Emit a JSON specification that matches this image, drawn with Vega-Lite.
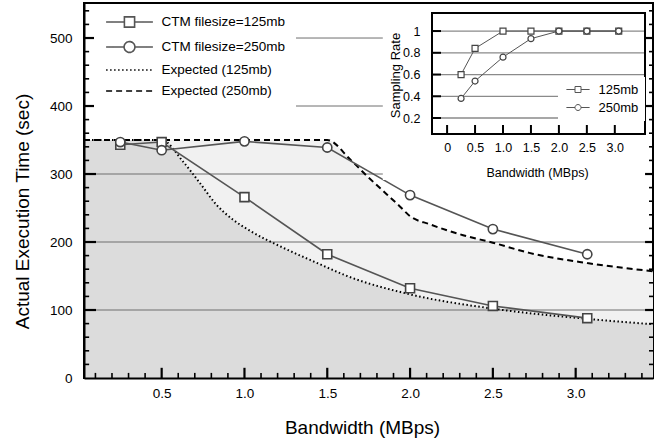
{
  "$schema": "https://vega.github.io/schema/vega-lite/v6.json",
  "autosize": "none",
  "width": 569,
  "height": 375,
  "padding": {"left": 84, "top": 3, "right": 5, "bottom": 66},
  "background": "white",
  "config": {
    "font": "Liberation Sans",
    "view": {"stroke": "black", "strokeWidth": 2},
    "axis": {"grid": false, "labelFont": "Liberation Sans", "titleFont": "Liberation Sans", "labelColor": "black", "titleColor": "black", "titleFontWeight": "normal", "tickColor": "black", "domainColor": "black"},
    "legend": {"labelFont": "Liberation Sans", "labelColor": "black"}
  },
  "datasets": {
    "main": [
      {"series": "CTM filesize=125mb", "bw": 0.25, "time": 343},
      {"series": "CTM filesize=125mb", "bw": 0.5, "time": 347},
      {"series": "CTM filesize=125mb", "bw": 1.0, "time": 266},
      {"series": "CTM filesize=125mb", "bw": 1.5, "time": 182},
      {"series": "CTM filesize=125mb", "bw": 2.0, "time": 132},
      {"series": "CTM filesize=125mb", "bw": 2.5, "time": 106},
      {"series": "CTM filesize=125mb", "bw": 3.07, "time": 88},
      {"series": "CTM filesize=250mb", "bw": 0.25, "time": 347},
      {"series": "CTM filesize=250mb", "bw": 0.5, "time": 335},
      {"series": "CTM filesize=250mb", "bw": 1.0, "time": 348},
      {"series": "CTM filesize=250mb", "bw": 1.5, "time": 339},
      {"series": "CTM filesize=250mb", "bw": 2.0, "time": 269},
      {"series": "CTM filesize=250mb", "bw": 2.5, "time": 219},
      {"series": "CTM filesize=250mb", "bw": 3.07, "time": 182},
      {"series": "Expected (125mb)", "bw": 0.031, "time": 350},
      {"series": "Expected (125mb)", "bw": 0.5, "time": 350},
      {"series": "Expected (125mb)", "bw": 0.63, "time": 318},
      {"series": "Expected (125mb)", "bw": 0.73, "time": 287},
      {"series": "Expected (125mb)", "bw": 0.83, "time": 255},
      {"series": "Expected (125mb)", "bw": 0.93, "time": 233},
      {"series": "Expected (125mb)", "bw": 1.03, "time": 217},
      {"series": "Expected (125mb)", "bw": 1.23, "time": 192},
      {"series": "Expected (125mb)", "bw": 1.44, "time": 169},
      {"series": "Expected (125mb)", "bw": 1.62, "time": 150},
      {"series": "Expected (125mb)", "bw": 2.0, "time": 123},
      {"series": "Expected (125mb)", "bw": 2.5, "time": 102},
      {"series": "Expected (125mb)", "bw": 3.07, "time": 87},
      {"series": "Expected (125mb)", "bw": 3.467, "time": 79},
      {"series": "Expected (250mb)", "bw": 0.031, "time": 350},
      {"series": "Expected (250mb)", "bw": 1.5, "time": 350},
      {"series": "Expected (250mb)", "bw": 1.64, "time": 321},
      {"series": "Expected (250mb)", "bw": 1.74, "time": 297},
      {"series": "Expected (250mb)", "bw": 1.86, "time": 270},
      {"series": "Expected (250mb)", "bw": 1.94, "time": 252},
      {"series": "Expected (250mb)", "bw": 2.0, "time": 238},
      {"series": "Expected (250mb)", "bw": 2.12, "time": 226},
      {"series": "Expected (250mb)", "bw": 2.32, "time": 210},
      {"series": "Expected (250mb)", "bw": 2.5, "time": 199},
      {"series": "Expected (250mb)", "bw": 2.72, "time": 184},
      {"series": "Expected (250mb)", "bw": 3.07, "time": 169},
      {"series": "Expected (250mb)", "bw": 3.467, "time": 157}
    ],
    "inset": [
      {"series": "125mb", "bw": 0.25, "rate": 0.6},
      {"series": "125mb", "bw": 0.5, "rate": 0.84},
      {"series": "125mb", "bw": 1.0, "rate": 1.0},
      {"series": "125mb", "bw": 1.5, "rate": 1.0},
      {"series": "125mb", "bw": 2.0, "rate": 1.0},
      {"series": "125mb", "bw": 2.5, "rate": 1.0},
      {"series": "125mb", "bw": 3.07, "rate": 1.0},
      {"series": "250mb", "bw": 0.25, "rate": 0.38},
      {"series": "250mb", "bw": 0.5, "rate": 0.54},
      {"series": "250mb", "bw": 1.0, "rate": 0.76},
      {"series": "250mb", "bw": 1.5, "rate": 0.93},
      {"series": "250mb", "bw": 2.0, "rate": 1.0},
      {"series": "250mb", "bw": 2.5, "rate": 1.0},
      {"series": "250mb", "bw": 3.07, "rate": 1.0}
    ],
    "grid": [{"g": 100}, {"g": 200}, {"g": 300}, {"g": 400}, {"g": 500}],
    "xMajor": [{"v": 0.5}, {"v": 1.0}, {"v": 1.5}, {"v": 2.0}, {"v": 2.5}, {"v": 3.0}],
    "xMinor": [{"v": 0.1}, {"v": 0.2}, {"v": 0.3}, {"v": 0.4}, {"v": 0.6}, {"v": 0.7}, {"v": 0.8}, {"v": 0.9}, {"v": 1.1}, {"v": 1.2}, {"v": 1.3}, {"v": 1.4}, {"v": 1.6}, {"v": 1.7}, {"v": 1.8}, {"v": 1.9}, {"v": 2.1}, {"v": 2.2}, {"v": 2.3}, {"v": 2.4}, {"v": 2.6}, {"v": 2.7}, {"v": 2.8}, {"v": 2.9}, {"v": 3.1}, {"v": 3.2}, {"v": 3.3}, {"v": 3.4}],
    "yMajor": [{"v": 100}, {"v": 200}, {"v": 300}, {"v": 400}, {"v": 500}],
    "yMinor": [{"v": 20}, {"v": 40}, {"v": 60}, {"v": 80}, {"v": 120}, {"v": 140}, {"v": 160}, {"v": 180}, {"v": 220}, {"v": 240}, {"v": 260}, {"v": 280}, {"v": 320}, {"v": 340}, {"v": 360}, {"v": 380}, {"v": 420}, {"v": 440}, {"v": 460}, {"v": 480}, {"v": 520}, {"v": 540}],
    "insetGrid": [{"r": 0.2}, {"r": 0.4}, {"r": 0.6}, {"r": 0.8}, {"r": 1.0}],
    "insetX": [{"v": 0}, {"v": 0.5}, {"v": 1.0}, {"v": 1.5}, {"v": 2.0}, {"v": 2.5}, {"v": 3.0}]
  },
  "layer": [
    {
      "data": {"name": "main"},
      "resolve": {"axis": {"x": "independent", "y": "independent"}},
      "layer": [
        {
          "transform": [{"filter": "datum.series === 'Expected (250mb)'"}],
          "mark": {"type": "area", "color": "#f1f1f1", "interpolate": "monotone"},
          "encoding": {
            "x": {"field": "bw", "type": "quantitative", "scale": {"domain": [0.031, 3.467], "nice": false, "zero": false},
              "axis": {"orient": "bottom", "zindex": 1, "values": [0.5, 1.0, 1.5, 2.0, 2.5, 3.0], "format": ".1f", "ticks": false, "labelPadding": 8, "labelFontSize": 13.5, "domainWidth": 2, "title": "Bandwidth (MBps)", "titleFontSize": 19, "titleX": 278, "titleY": 49, "titleBaseline": "middle"}},
            "y": {"field": "time", "type": "quantitative", "scale": {"domain": [0, 551.5], "nice": false, "zero": false},
              "axis": {"orient": "left", "zindex": 1, "values": [0, 100, 200, 300, 400, 500], "ticks": false, "labelPadding": 12, "labelFontSize": 13.5, "domainWidth": 2, "title": "Actual Execution Time (sec)", "titleFontSize": 19, "titleX": -62, "titleY": 208, "titleBaseline": "middle", "titleAngle": -90}}
          }
        },
        {
          "transform": [{"filter": "datum.series === 'Expected (125mb)'"}],
          "mark": {"type": "area", "color": "#dcdcdc", "interpolate": "monotone"},
          "encoding": {
            "x": {"field": "bw", "type": "quantitative", "scale": {"domain": [0.031, 3.467], "nice": false, "zero": false}, "axis": null},
            "y": {"field": "time", "type": "quantitative", "scale": {"domain": [0, 551.5], "nice": false, "zero": false}, "axis": null}
          }
        },
        {
          "data": {"name": "grid"},
          "mark": {"type": "rule", "color": "#6e6e6e", "strokeWidth": 1},
          "encoding": {
            "y": {"field": "g", "type": "quantitative", "scale": {"domain": [0, 551.5], "nice": false, "zero": false}, "axis": null}
          }
        },
        {
          "transform": [{"filter": "datum.series === 'Expected (125mb)'"}],
          "mark": {"type": "line", "color": "black", "strokeWidth": 2, "strokeDash": [1.5, 2.5], "interpolate": "monotone"},
          "encoding": {
            "x": {"field": "bw", "type": "quantitative", "scale": {"domain": [0.031, 3.467], "nice": false, "zero": false}, "axis": null},
            "y": {"field": "time", "type": "quantitative", "scale": {"domain": [0, 551.5], "nice": false, "zero": false}, "axis": null}
          }
        },
        {
          "transform": [{"filter": "datum.series === 'Expected (250mb)'"}],
          "mark": {"type": "line", "color": "black", "strokeWidth": 2, "strokeDash": [6, 4], "interpolate": "monotone"},
          "encoding": {
            "x": {"field": "bw", "type": "quantitative", "scale": {"domain": [0.031, 3.467], "nice": false, "zero": false}, "axis": null},
            "y": {"field": "time", "type": "quantitative", "scale": {"domain": [0, 551.5], "nice": false, "zero": false}, "axis": null}
          }
        },
        {
          "transform": [{"filter": "indexof(datum.series, 'CTM') === 0"}],
          "mark": {"type": "line", "color": "#555555", "strokeWidth": 1.6},
          "encoding": {
            "x": {"field": "bw", "type": "quantitative", "scale": {"domain": [0.031, 3.467], "nice": false, "zero": false}, "axis": null},
            "y": {"field": "time", "type": "quantitative", "scale": {"domain": [0, 551.5], "nice": false, "zero": false}, "axis": null},
            "detail": {"field": "series"}
          }
        },
        {
          "transform": [{"filter": "datum.series === 'CTM filesize=125mb'"}],
          "mark": {"type": "point", "shape": "square", "size": 80, "filled": true, "fill": "white", "stroke": "#444444", "strokeWidth": 1.6, "opacity": 1},
          "encoding": {
            "x": {"field": "bw", "type": "quantitative", "scale": {"domain": [0.031, 3.467], "nice": false, "zero": false}, "axis": null},
            "y": {"field": "time", "type": "quantitative", "scale": {"domain": [0, 551.5], "nice": false, "zero": false}, "axis": null}
          }
        },
        {
          "transform": [{"filter": "datum.series === 'CTM filesize=250mb'"}],
          "mark": {"type": "point", "shape": "circle", "size": 85, "filled": true, "fill": "white", "stroke": "#444444", "strokeWidth": 1.6, "opacity": 1},
          "encoding": {
            "x": {"field": "bw", "type": "quantitative", "scale": {"domain": [0.031, 3.467], "nice": false, "zero": false}, "axis": null},
            "y": {"field": "time", "type": "quantitative", "scale": {"domain": [0, 551.5], "nice": false, "zero": false}, "axis": null}
          }
        },
        {
          "mark": {"type": "point", "opacity": 0},
          "encoding": {
            "x": {"field": "bw", "type": "quantitative", "scale": {"domain": [0.031, 3.467], "nice": false, "zero": false}, "axis": null},
            "y": {"field": "time", "type": "quantitative", "scale": {"domain": [0, 551.5], "nice": false, "zero": false}, "axis": null},
            "shape": {"field": "series", "type": "nominal",
              "scale": {"domain": ["CTM filesize=125mb", "CTM filesize=250mb", "Expected (125mb)", "Expected (250mb)"],
                "range": ["M-3.9,0H-0.85M0.85,0H3.9M-0.85,-0.85H0.85V0.85H-0.85Z", "M-3.9,0H-0.9M0.9,0H3.9M0.9,0A0.9,0.9,0,1,1,-0.9,0A0.9,0.9,0,1,1,0.9,0Z", "M-3.9,0H3.9", "M-3.9,0H3.9"]},
              "legend": {"title": null, "orient": "none", "legendX": 10, "legendY": 1, "fillColor": "white", "padding": 11, "symbolSize": 144, "symbolStrokeWidth": 1.6, "symbolOffset": 17.5, "labelOffset": 25, "labelFontSize": 13.5, "rowPadding": 7, "zindex": 1, "symbolOpacity": 1, "labelLimit": 300}},
            "color": {"field": "series", "type": "nominal",
              "scale": {"domain": ["CTM filesize=125mb", "CTM filesize=250mb", "Expected (125mb)", "Expected (250mb)"], "range": ["#555555", "#555555", "#000000", "#000000"]},
              "legend": {"title": null, "orient": "none", "legendX": 10, "legendY": 1, "fillColor": "white", "padding": 11, "symbolSize": 144, "symbolStrokeWidth": 1.6, "symbolOffset": 17.5, "labelOffset": 25, "labelFontSize": 13.5, "rowPadding": 7, "zindex": 1, "symbolOpacity": 1, "labelLimit": 300}},
            "strokeDash": {"field": "series", "type": "nominal",
              "scale": {"domain": ["CTM filesize=125mb", "CTM filesize=250mb", "Expected (125mb)", "Expected (250mb)"], "range": [[1, 0], [1, 0], [1.5, 2.5], [6, 4]]},
              "legend": {"title": null, "orient": "none", "legendX": 10, "legendY": 1, "fillColor": "white", "padding": 11, "symbolSize": 144, "symbolStrokeWidth": 1.6, "symbolOffset": 17.5, "labelOffset": 25, "labelFontSize": 13.5, "rowPadding": 7, "zindex": 1, "symbolOpacity": 1, "labelLimit": 300}}
          }
        }
      ]
    },
    {
      "data": {"name": "inset"},
      "resolve": {"axis": {"x": "independent", "y": "independent"}},
      "layer": [
        {
          "data": {"values": [{}]},
          "mark": {"type": "rect", "color": "white"},
          "encoding": {
            "x": {"datum": -1.15, "type": "quantitative", "scale": {"domain": [-0.27, 3.54], "range": [348, 561], "nice": false, "zero": false}, "axis": null},
            "x2": {"datum": 3.56},
            "y": {"datum": -0.37, "type": "quantitative", "scale": {"domain": [0.053, 1.166], "range": [131, 10], "nice": false, "zero": false}, "axis": null},
            "y2": {"datum": 1.24}
          }
        },
        {
          "data": {"name": "insetGrid"},
          "mark": {"type": "rule", "color": "#8a8a8a", "strokeWidth": 1.3},
          "encoding": {
            "y": {"field": "r", "type": "quantitative", "scale": {"domain": [0.053, 1.166], "range": [131, 10], "nice": false, "zero": false}, "axis": null},
            "x": {"datum": -0.27, "type": "quantitative", "scale": {"domain": [-0.27, 3.54], "range": [348, 561], "nice": false, "zero": false}, "axis": null},
            "x2": {"datum": 3.54}
          }
        },
        {
          "data": {"values": [{}]},
          "mark": {"type": "rect", "fill": null, "fillOpacity": 0, "stroke": "black", "strokeWidth": 2},
          "encoding": {
            "x": {"datum": -0.27, "type": "quantitative", "scale": {"domain": [-0.27, 3.54], "range": [348, 561], "nice": false, "zero": false}, "axis": null},
            "x2": {"datum": 3.54},
            "y": {"datum": 0.053, "type": "quantitative", "scale": {"domain": [0.053, 1.166], "range": [131, 10], "nice": false, "zero": false}, "axis": null},
            "y2": {"datum": 1.166}
          }
        },
        {
          "mark": {"type": "line", "color": "#555555", "strokeWidth": 1},
          "encoding": {
            "x": {"field": "bw", "type": "quantitative", "scale": {"domain": [-0.27, 3.54], "range": [348, 561], "nice": false, "zero": false},
              "axis": {"orient": "bottom", "zindex": 2, "offset": -244, "values": [0, 0.5, 1.0, 1.5, 2.0, 2.5, 3.0], "labelExpr": "datum.value === 0 ? '0' : format(datum.value, '.1f')", "ticks": false, "labelPadding": 7, "labelFontSize": 12.5, "domain": false, "title": "Bandwidth (MBps)", "titleFontSize": 12.5, "titleX": 453, "titleY": 38, "titleBaseline": "middle"}},
            "y": {"field": "rate", "type": "quantitative", "scale": {"domain": [0.053, 1.166], "range": [131, 10], "nice": false, "zero": false},
              "axis": {"orient": "left", "zindex": 2, "offset": -348, "values": [0.2, 0.4, 0.6, 0.8, 1.0], "format": "~g", "ticks": false, "labelPadding": 12, "labelFontSize": 12.5, "domain": false, "title": "Sampling Rate", "titleFontSize": 13, "titleX": -37, "titleY": 72, "titleBaseline": "middle", "titleAngle": -90}},
            "detail": {"field": "series"}
          }
        },
        {
          "transform": [{"filter": "datum.series === '125mb'"}],
          "mark": {"type": "point", "shape": "square", "size": 36, "filled": true, "fill": "white", "stroke": "#444444", "strokeWidth": 1.2, "opacity": 1},
          "encoding": {
            "x": {"field": "bw", "type": "quantitative", "scale": {"domain": [-0.27, 3.54], "range": [348, 561], "nice": false, "zero": false}, "axis": null},
            "y": {"field": "rate", "type": "quantitative", "scale": {"domain": [0.053, 1.166], "range": [131, 10], "nice": false, "zero": false}, "axis": null}
          }
        },
        {
          "transform": [{"filter": "datum.series === '250mb'"}],
          "mark": {"type": "point", "shape": "circle", "size": 36, "filled": true, "fill": "white", "stroke": "#444444", "strokeWidth": 1.2, "opacity": 1},
          "encoding": {
            "x": {"field": "bw", "type": "quantitative", "scale": {"domain": [-0.27, 3.54], "range": [348, 561], "nice": false, "zero": false}, "axis": null},
            "y": {"field": "rate", "type": "quantitative", "scale": {"domain": [0.053, 1.166], "range": [131, 10], "nice": false, "zero": false}, "axis": null}
          }
        },
        {
          "mark": {"type": "point", "opacity": 0, "color": "#555555"},
          "encoding": {
            "x": {"field": "bw", "type": "quantitative", "scale": {"domain": [-0.27, 3.54], "range": [348, 561], "nice": false, "zero": false}, "axis": null},
            "y": {"field": "rate", "type": "quantitative", "scale": {"domain": [0.053, 1.166], "range": [131, 10], "nice": false, "zero": false}, "axis": null},
            "shape": {"field": "series", "type": "nominal",
              "scale": {"domain": ["125mb", "250mb"], "range": ["M-2.9,0H-0.75M0.75,0H2.9M-0.75,-0.75H0.75V0.75H-0.75Z", "M-2.9,0H-0.75M0.75,0H2.9M0.75,0A0.75,0.75,0,1,1,-0.75,0A0.75,0.75,0,1,1,0.75,0Z"]},
              "legend": {"title": null, "orient": "none", "legendX": 474, "legendY": 74, "fillColor": "white", "padding": 6, "symbolSize": 64, "symbolStrokeWidth": 1, "symbolOffset": 7.5, "labelOffset": 14, "labelFontSize": 13, "rowPadding": 4, "zindex": 1, "symbolOpacity": 1, "symbolStrokeColor": "#555555"}}
          }
        },
        {
          "data": {"name": "insetX"},
          "mark": {"type": "rule", "color": "black", "strokeWidth": 2},
          "encoding": {
            "x": {"field": "v", "type": "quantitative", "scale": {"domain": [-0.27, 3.54], "range": [348, 561], "nice": false, "zero": false}, "axis": null},
            "y": {"datum": 0.053, "type": "quantitative", "scale": {"domain": [0.053, 1.166], "range": [131, 10], "nice": false, "zero": false}, "axis": null},
            "y2": {"datum": 0.136}
          }
        },
        {
          "data": {"name": "insetGrid"},
          "mark": {"type": "rule", "color": "black", "strokeWidth": 2},
          "encoding": {
            "y": {"field": "r", "type": "quantitative", "scale": {"domain": [0.053, 1.166], "range": [131, 10], "nice": false, "zero": false}, "axis": null},
            "x": {"datum": -0.27, "type": "quantitative", "scale": {"domain": [-0.27, 3.54], "range": [348, 561], "nice": false, "zero": false}, "axis": null},
            "x2": {"datum": -0.109}
          }
        }
      ]
    },
    {
      "resolve": {"axis": {"x": "independent", "y": "independent"}},
      "layer": [
        {
          "data": {"name": "xMajor"},
          "mark": {"type": "rule", "color": "black", "strokeWidth": 2.2},
          "encoding": {
            "x": {"field": "v", "type": "quantitative", "scale": {"domain": [0.031, 3.467], "nice": false, "zero": false}, "axis": null},
            "y": {"datum": 0, "type": "quantitative", "scale": {"domain": [0, 551.5], "nice": false, "zero": false}, "axis": null},
            "y2": {"datum": 15}
          }
        },
        {
          "data": {"name": "xMinor"},
          "mark": {"type": "rule", "color": "black", "strokeWidth": 1.6},
          "encoding": {
            "x": {"field": "v", "type": "quantitative", "scale": {"domain": [0.031, 3.467], "nice": false, "zero": false}, "axis": null},
            "y": {"datum": 0, "type": "quantitative", "scale": {"domain": [0, 551.5], "nice": false, "zero": false}, "axis": null},
            "y2": {"datum": 7.5}
          }
        },
        {
          "data": {"name": "yMajor"},
          "mark": {"type": "rule", "color": "black", "strokeWidth": 2.2},
          "encoding": {
            "y": {"field": "v", "type": "quantitative", "scale": {"domain": [0, 551.5], "nice": false, "zero": false}, "axis": null},
            "x": {"datum": 0.031, "type": "quantitative", "scale": {"domain": [0.031, 3.467], "nice": false, "zero": false}, "axis": null},
            "x2": {"datum": 0.1035}
          }
        },
        {
          "data": {"name": "yMinor"},
          "mark": {"type": "rule", "color": "black", "strokeWidth": 1.6},
          "encoding": {
            "y": {"field": "v", "type": "quantitative", "scale": {"domain": [0, 551.5], "nice": false, "zero": false}, "axis": null},
            "x": {"datum": 0.031, "type": "quantitative", "scale": {"domain": [0.031, 3.467], "nice": false, "zero": false}, "axis": null},
            "x2": {"datum": 0.062}
          }
        },
        {
          "data": {"name": "yMajor"},
          "mark": {"type": "rule", "color": "black", "strokeWidth": 2.2},
          "encoding": {
            "y": {"field": "v", "type": "quantitative", "scale": {"domain": [0, 551.5], "nice": false, "zero": false}, "axis": null},
            "x": {"datum": 3.419, "type": "quantitative", "scale": {"domain": [0.031, 3.467], "nice": false, "zero": false}, "axis": null},
            "x2": {"datum": 3.467}
          }
        },
        {
          "data": {"name": "yMinor"},
          "mark": {"type": "rule", "color": "black", "strokeWidth": 1.6},
          "encoding": {
            "y": {"field": "v", "type": "quantitative", "scale": {"domain": [0, 551.5], "nice": false, "zero": false}, "axis": null},
            "x": {"datum": 3.443, "type": "quantitative", "scale": {"domain": [0.031, 3.467], "nice": false, "zero": false}, "axis": null},
            "x2": {"datum": 3.467}
          }
        }
      ]
    }
  ],
  "resolve": {"scale": {"x": "independent", "y": "independent", "color": "independent", "shape": "independent", "strokeDash": "independent"}}
}
